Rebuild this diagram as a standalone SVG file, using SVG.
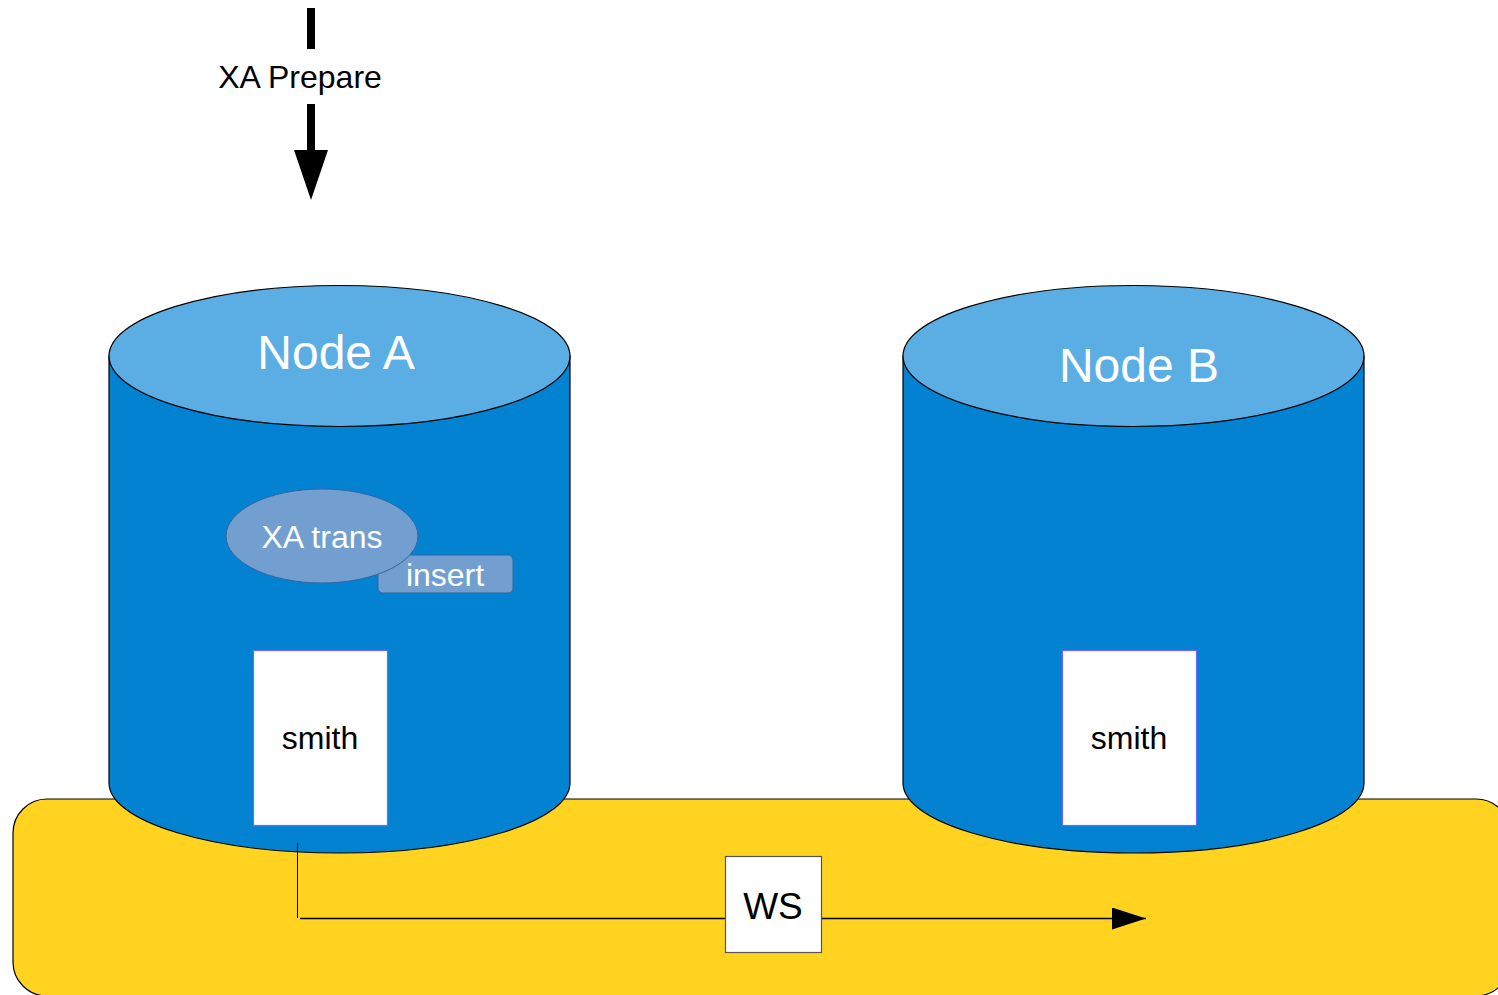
<svg xmlns="http://www.w3.org/2000/svg" width="1498" height="995" viewBox="0 0 1498 995">
<style>
.body{fill:#0282d0;stroke:#000;stroke-width:1.2}
.top{fill:#5baee3;stroke:#000;stroke-width:1.2}
.title{font-family:"Liberation Sans",Arial,sans-serif;font-size:48px;fill:#fff;text-anchor:middle}
.lbl{font-family:"Liberation Sans",Arial,sans-serif;font-size:32px;text-anchor:middle}
.box{fill:#fff;stroke:#6b6bff;stroke-width:1.2}
</style>
<defs>
<marker id="ah" markerWidth="34" markerHeight="22" refX="34" refY="11" orient="auto" markerUnits="userSpaceOnUse">
<path d="M0,0 L34,11 L0,22 Z" fill="#000"/>
</marker>
</defs>
<rect width="1498" height="995" fill="#fff"/>
<g id="bus">
<rect x="13" y="799" width="1497" height="197" rx="34" ry="34" fill="#ffd320" stroke="#000" stroke-width="1.2"/>
</g>
<g id="nodeA">
<path class="body" d="M109,356 L109,783 A230.5,70 0 0 0 570,783 L570,356 Z"/>
<ellipse class="top" cx="339.5" cy="356" rx="230.5" ry="70.5"/>
<text class="title" x="336" y="369">Node A</text>
</g>
<g id="nodeB">
<path class="body" d="M903,356 L903,783 A230.5,70 0 0 0 1364,783 L1364,356 Z"/>
<ellipse class="top" cx="1133.5" cy="356" rx="230.5" ry="70.5"/>
<text class="title" x="1139" y="382">Node B</text>
</g>
<g id="insert">
<rect x="378" y="555" width="135" height="38" rx="5" fill="#729fcf" stroke="#3465a4" stroke-width="1"/>
</g>
<g id="xatrans">
<ellipse cx="322" cy="536" rx="96" ry="47" fill="#729fcf" stroke="#3465a4" stroke-width="1"/>
<text class="lbl" x="322" y="548" fill="#fff">XA trans</text>
</g>
<text class="lbl" x="445" y="586" fill="#fff">insert</text>
<g id="smithA">
<rect class="box" x="253.5" y="650.5" width="134" height="175"/>
<text class="lbl" x="320" y="749" fill="#000">smith</text>
</g>
<g id="smithB">
<rect class="box" x="1062.5" y="650.5" width="134" height="175"/>
<text class="lbl" x="1129" y="749" fill="#000">smith</text>
</g>
<g id="connectors">
<line x1="297.5" y1="843" x2="297.5" y2="918" stroke="#000" stroke-width="1"/>
<line x1="300" y1="918.5" x2="1146" y2="918.5" stroke="#000" stroke-width="1.3" marker-end="url(#ah)"/>
<line x1="311" y1="8" x2="311" y2="49" stroke="#000" stroke-width="8"/>
<line x1="311" y1="104" x2="311" y2="152" stroke="#000" stroke-width="8"/>
<path d="M294,150 L328,150 L311,200 Z" fill="#000"/>
<text x="300" y="88" font-family="Liberation Sans, Arial, sans-serif" font-size="32" text-anchor="middle" fill="#000">XA Prepare</text>
</g>
<g id="ws">
<rect x="725.5" y="856.5" width="96" height="96" fill="#fff" stroke="#555" stroke-width="1.2"/>
<text x="773" y="919" font-family="Liberation Sans, Arial, sans-serif" font-size="37" text-anchor="middle" fill="#000">WS</text>
</g>
</svg>
